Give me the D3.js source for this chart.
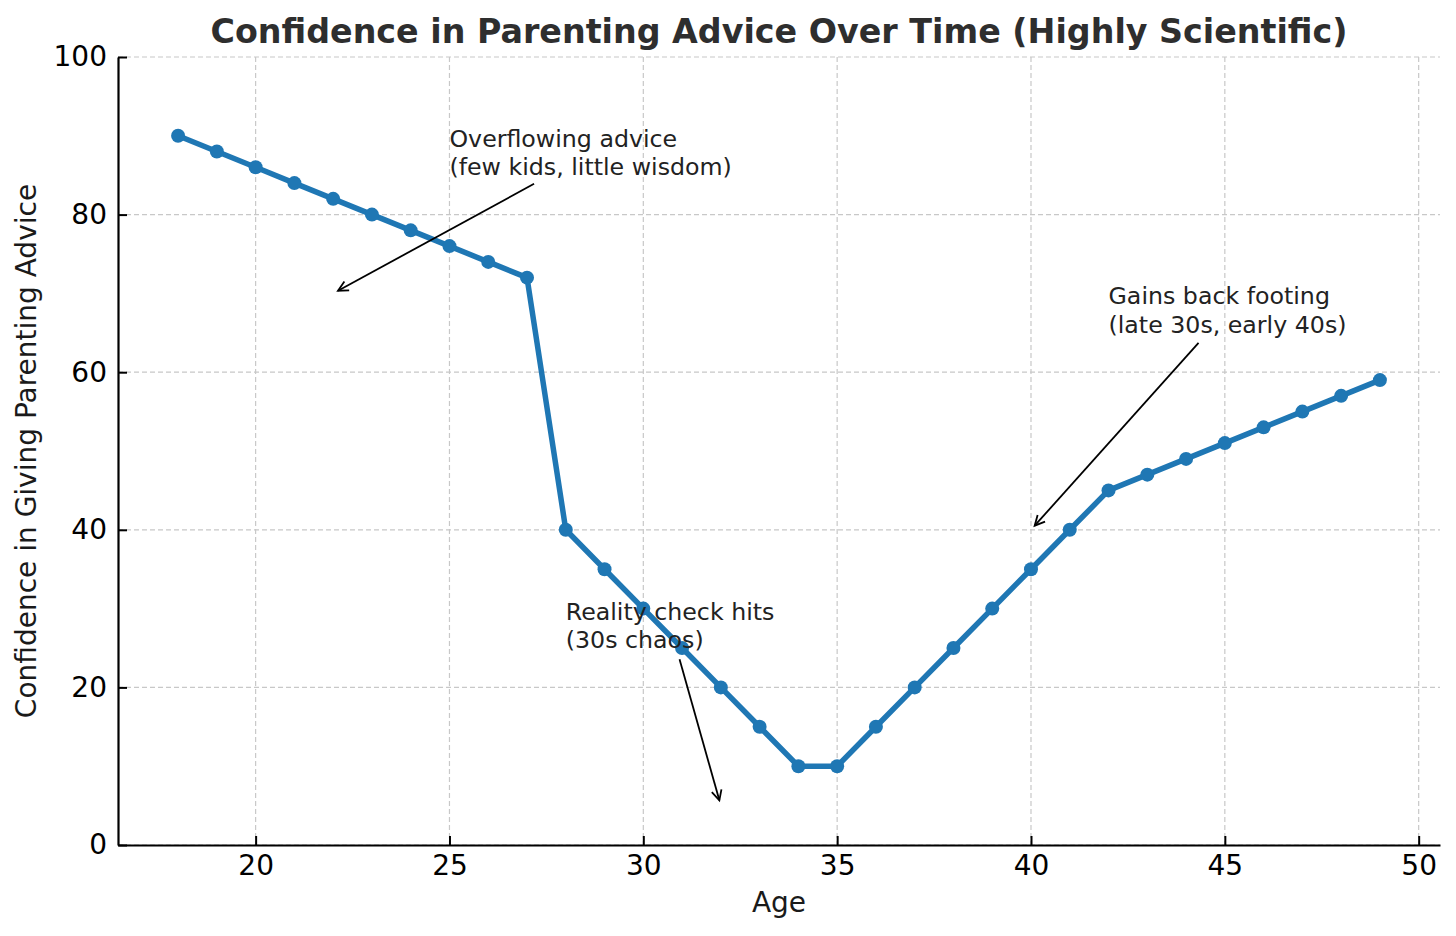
<!DOCTYPE html>
<html>
<head>
<meta charset="utf-8">
<script src="https://cdn.jsdelivr.net/npm/d3@7"></script>
<style>
  body { margin: 0; background: #fff; }
  text { font-family: "DejaVu Sans", sans-serif; }
</style>
</head>
<body>
<svg id="chart"></svg>
<script>
// Data
var ages = [18,19,20,21,22,23,24,25,26,27,28,29,30,31,32,33,34,35,36,37,38,39,40,41,42,43,44,45,46,47,48,49];
var confidence = [90,88,86,84,82,80,78,76,74,72,40,35,30,25,20,15,10,10,15,20,25,30,35,40,45,47,49,51,53,55,57,59];
var xTicks = [20,25,30,35,40,45,50];
var yTicks = [0,20,40,60,80,100];

// annotations: text lines, text position (data), arrow target (data)
var noteLines = [
    ["Overflowing advice", "(few kids, little wisdom)"],
    ["Reality check hits", "(30s chaos)"],
    ["Gains back footing", "(late 30s, early 40s)"]
];
var noteText = [[25,85],[28,25],[42,65]];
var noteTarget = [[22,70],[32,5],[40,40]];

var W = 1456, H = 936;
var margin = {top:57, right:16, bottom:91, left:118};
var width = W - margin.left - margin.right;
var height = H - margin.top - margin.bottom;

var svg = d3.select('#chart').attr('width', W).attr('height', H);
var g = svg.append('g').attr('transform', 'translate(' + margin.left + ',' + margin.top + ')');

// matplotlib style 5% padding on x
var pad = (d3.max(ages) - d3.min(ages)) * 0.05;
var x = d3.scaleLinear().domain([d3.min(ages) - pad, d3.max(ages) + pad]).range([0, width]);
var y = d3.scaleLinear().domain([0, 100]).range([height, 0]);

// grid
g.append('g').selectAll('line').data(xTicks).enter().append('line')
    .attr('x1', function(d){ return x(d); }).attr('x2', function(d){ return x(d); })
    .attr('y1', 0).attr('y2', height)
    .style('stroke', '#c8c8c8').style('stroke-width', 1.2).style('stroke-dasharray', '5,3');
g.append('g').selectAll('line').data(yTicks).enter().append('line')
    .attr('y1', function(d){ return y(d); }).attr('y2', function(d){ return y(d); })
    .attr('x1', 0).attr('x2', width)
    .style('stroke', '#c8c8c8').style('stroke-width', 1.2).style('stroke-dasharray', '5,3');

// axes (ticks point inward)
var xAxis = g.append('g').attr('transform', 'translate(0,' + height + ')')
    .call(d3.axisBottom(x).tickValues(xTicks).tickSizeInner(-9).tickSizeOuter(0).tickPadding(20));
var yAxis = g.append('g')
    .call(d3.axisLeft(y).tickValues(yTicks).tickSizeInner(-9).tickSizeOuter(0).tickPadding(20));
[xAxis, yAxis].forEach(function(a){
    a.select('.domain').style('stroke', '#000').style('stroke-width', 2.2);
    a.selectAll('.tick line').style('stroke', '#000').style('stroke-width', 2);
    a.selectAll('.tick text').style('font-size', '28px').style('fill', '#000')
        .style('font-family', '"DejaVu Sans", sans-serif');
});
xAxis.selectAll('.tick text').attr('dy', '0.72em').attr('y', 10);
yAxis.selectAll('.tick text').attr('x', -11);

// line + markers
var line = d3.line().x(function(d, i){ return x(ages[i]); }).y(function(d){ return y(d); });
g.append('path').datum(confidence)
    .attr('d', line)
    .style('fill', 'none').style('stroke', '#1f77b4').style('stroke-width', 5.5)
    .style('stroke-linejoin', 'round');
g.append('g').selectAll('circle').data(confidence).enter().append('circle')
    .attr('cx', function(d, i){ return x(ages[i]); })
    .attr('cy', function(d){ return y(d); })
    .attr('r', 7)
    .style('fill', '#1f77b4');

// annotations
var fs = 23.7;
noteLines.forEach(function(lines, k){
    var tx = x(noteText[k][0]), ty = y(noteText[k][1]);
    var t = g.append('text').attr('x', tx).attr('y', ty)
        .style('font-size', fs + 'px').style('fill', '#222');
    lines.forEach(function(s, j){
        t.append('tspan').attr('x', tx)
            .attr('y', ty - (lines.length - 1 - j) * fs * 1.2)
            .text(s);
    });
    var bb = t.node().getBBox();
    var cx = bb.x + bb.width / 2, cy = bb.y + bb.height / 2;
    var ex = x(noteTarget[k][0]), ey = y(noteTarget[k][1]);
    var dx = ex - cx, dy = ey - cy;
    // clip to text box
    var tClip = Math.min(
        dx !== 0 ? (bb.width / 2) / Math.abs(dx) : Infinity,
        dy !== 0 ? (bb.height / 2) / Math.abs(dy) : Infinity);
    var len = Math.sqrt(dx*dx + dy*dy);
    var ux = dx / len, uy = dy / len;
    var shrink = 5.5;
    var sx = cx + dx * tClip + ux * shrink, sy = cy + dy * tClip + uy * shrink;
    var fx = ex - ux * shrink, fy = ey - uy * shrink;
    g.append('line').attr('x1', sx).attr('y1', sy).attr('x2', fx).attr('y2', fy)
        .style('stroke', '#000').style('stroke-width', 1.8);
    // open arrow head
    var hl = 10, hw = 5;
    var bx = fx - ux * hl, by = fy - uy * hl;
    var px = -uy, py = ux;
    g.append('path')
        .attr('d', 'M' + (bx + px*hw) + ',' + (by + py*hw) + 'L' + fx + ',' + fy + 'L' + (bx - px*hw) + ',' + (by - py*hw))
        .style('fill', 'none').style('stroke', '#000').style('stroke-width', 1.8);
});

// title & labels
svg.append('text').attr('x', margin.left + width / 2).attr('y', 43)
    .attr('text-anchor', 'middle')
    .style('font-size', '33.3px').style('font-weight', 'bold').style('fill', '#2e2e2e')
    .text('Confidence in Parenting Advice Over Time (Highly Scientific)');
svg.append('text').attr('x', margin.left + width / 2).attr('y', 912)
    .attr('text-anchor', 'middle')
    .style('font-size', '28px').style('fill', '#1a1a1a')
    .text('Age');
svg.append('text')
    .attr('transform', 'translate(36,' + (margin.top + height / 2) + ') rotate(-90)')
    .attr('text-anchor', 'middle')
    .style('font-size', '28px').style('fill', '#1a1a1a')
    .text('Confidence in Giving Parenting Advice');
</script>
</body>
</html>
